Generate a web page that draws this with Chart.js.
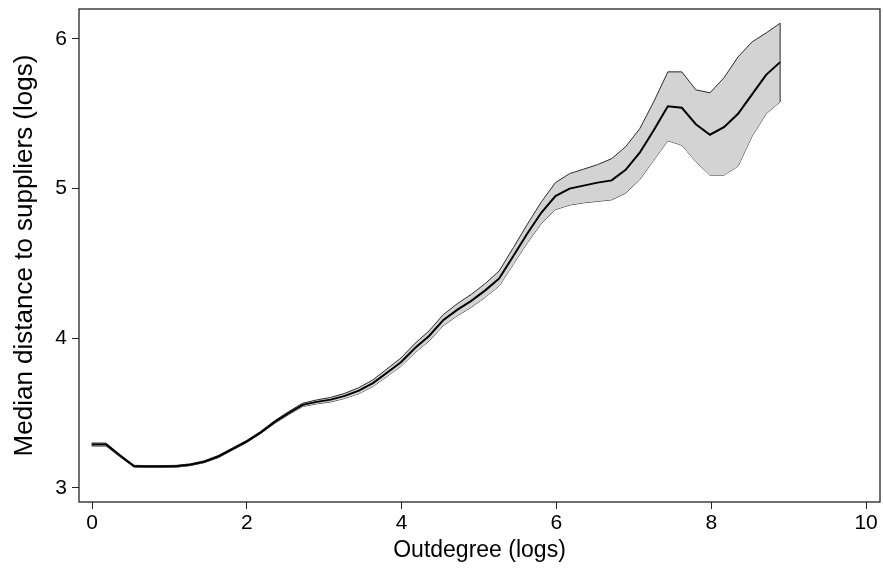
<!DOCTYPE html>
<html>
<head>
<meta charset="utf-8">
<script src="https://cdn.jsdelivr.net/npm/chart.js@4.4.1/dist/chart.umd.min.js"></script>
<style>
  html, body { margin: 0; padding: 0; background: #fff; }
  #wrap { width: 883px; height: 571px; }
</style>
</head>
<body>
<div id="wrap"><canvas id="c" width="883" height="571"></canvas></div>
<script>
// Evaluation grid (log outdegree)
const outdegree = [0, 0.181, 0.363, 0.544, 0.726, 0.907, 1.089, 1.270, 1.451, 1.633,
  1.814, 1.996, 2.177, 2.359, 2.540, 2.721, 2.903, 3.084, 3.266, 3.447,
  3.629, 3.810, 3.991, 4.173, 4.354, 4.536, 4.717, 4.899, 5.080, 5.261,
  5.443, 5.624, 5.806, 5.987, 6.169, 6.350, 6.531, 6.713, 6.894, 7.076,
  7.257, 7.439, 7.620, 7.801, 7.983, 8.164, 8.346, 8.527, 8.709, 8.890];

// Median distance to suppliers (logs) - fitted line
const medianDist = [3.29, 3.29, 3.215, 3.145, 3.143, 3.143, 3.145, 3.155, 3.175, 3.21,
  3.26, 3.31, 3.37, 3.44, 3.50, 3.555, 3.575, 3.59, 3.615, 3.65,
  3.70, 3.77, 3.84, 3.935, 4.015, 4.12, 4.19, 4.25, 4.32, 4.40,
  4.55, 4.70, 4.84, 4.95, 5.00, 5.02, 5.04, 5.055, 5.125, 5.24,
  5.39, 5.55, 5.54, 5.43, 5.36, 5.41, 5.50, 5.63, 5.76, 5.845];

// Confidence band
const upperCI = [3.30, 3.30, 3.223, 3.151, 3.149, 3.149, 3.151, 3.161, 3.181, 3.217,
  3.267, 3.317, 3.377, 3.449, 3.51, 3.566, 3.588, 3.605, 3.632, 3.67,
  3.722, 3.795, 3.868, 3.966, 4.049, 4.157, 4.23, 4.293, 4.366, 4.45,
  4.605, 4.762, 4.912, 5.04, 5.10, 5.13, 5.16, 5.20, 5.28, 5.40,
  5.58, 5.78, 5.78, 5.66, 5.64, 5.74, 5.88, 5.98, 6.04, 6.105];
const lowerCI = [3.28, 3.28, 3.207, 3.139, 3.137, 3.137, 3.139, 3.149, 3.169, 3.203,
  3.253, 3.303, 3.363, 3.431, 3.49, 3.544, 3.562, 3.575, 3.598, 3.63,
  3.678, 3.745, 3.812, 3.904, 3.981, 4.083, 4.15, 4.207, 4.274, 4.35,
  4.495, 4.638, 4.768, 4.86, 4.89, 4.905, 4.915, 4.925, 4.97, 5.06,
  5.19, 5.32, 5.29, 5.18, 5.09, 5.09, 5.15, 5.35, 5.50, 5.58];

const xTicks = [0, 2, 4, 6, 8, 10];
const yTicks = [3, 4, 5, 6];
const xTitle = 'Outdegree (logs)';
const yTitle = 'Median distance to suppliers (logs)';

const pts = (ys) => outdegree.map((x, i) => ({ x: x, y: ys[i] }));

const FONT = "'Liberation Sans', Arial, sans-serif";

const framePlugin = {
  id: 'frame',
  afterDatasetsDraw(chart) {
    const { ctx, scales } = chart;
    ctx.save();
    ctx.strokeStyle = '#2a2a2a';
    ctx.lineWidth = 1;
    [0, outdegree.length - 1].forEach(i => {
      const px = scales.x.getPixelForValue(outdegree[i]);
      ctx.beginPath();
      ctx.moveTo(px, scales.y.getPixelForValue(upperCI[i]));
      ctx.lineTo(px, scales.y.getPixelForValue(lowerCI[i]));
      ctx.stroke();
    });
    ctx.restore();
  },
  afterDraw(chart) {
    const { ctx, chartArea: a } = chart;
    ctx.save();
    ctx.strokeStyle = '#222';
    ctx.lineWidth = 1.3;
    ctx.strokeRect(a.left, a.top, a.right - a.left, a.bottom - a.top);
    ctx.restore();
  }
};

new Chart(document.getElementById('c'), {
  type: 'line',
  data: {
    datasets: [
      {
        label: 'Median',
        data: pts(medianDist),
        borderColor: '#000',
        borderWidth: 2,
        pointRadius: 0,
        tension: 0,
        fill: false,
        order: 0
      },
      {
        label: 'Upper',
        data: pts(upperCI),
        borderColor: '#2a2a2a',
        borderWidth: 1,
        backgroundColor: '#d3d3d3',
        pointRadius: 0,
        tension: 0,
        fill: '+1',
        order: 1
      },
      {
        label: 'Lower',
        data: pts(lowerCI),
        borderColor: '#2a2a2a',
        borderWidth: 1,
        pointRadius: 0,
        tension: 0,
        fill: false,
        order: 2
      }
    ]
  },
  options: {
    responsive: false,
    animation: false,
    devicePixelRatio: 1,
    layout: { padding: { top: 9, right: 3, left: 0, bottom: 0 } },
    plugins: {
      legend: { display: false },
      tooltip: { enabled: false },
      filler: { propagate: false }
    },
    scales: {
      x: {
        type: 'linear',
        min: -0.168,
        max: 10.18,
        afterBuildTicks(s) { s.ticks = xTicks.map(v => ({ value: v })); },
        afterFit(s) { s.height = 69; s.paddingLeft = 0; s.paddingRight = 0; },
        grid: { drawOnChartArea: false, drawTicks: true, tickLength: 7, color: '#222', lineWidth: 1 },
        border: { display: false },
        ticks: { color: '#000', font: { family: FONT, size: 21 }, padding: 2, maxRotation: 0 },
        title: { display: true, text: xTitle, color: '#000', font: { family: FONT, size: 23 }, padding: { top: 2, bottom: 7 } }
      },
      y: {
        type: 'linear',
        min: 2.906,
        max: 6.2,
        afterBuildTicks(s) { s.ticks = yTicks.map(v => ({ value: v })); },
        afterFit(s) { s.width = 79; s.paddingTop = 0; s.paddingBottom = 0; },
        grid: { drawOnChartArea: false, drawTicks: true, tickLength: 7, color: '#222', lineWidth: 1 },
        border: { display: false },
        ticks: { color: '#000', font: { family: FONT, size: 21 }, padding: 5 },
        title: { display: true, text: yTitle, color: '#000', font: { family: FONT, size: 26 }, padding: { top: 9, bottom: 8 } }
      }
    }
  },
  plugins: [framePlugin]
});
</script>
</body>
</html>
